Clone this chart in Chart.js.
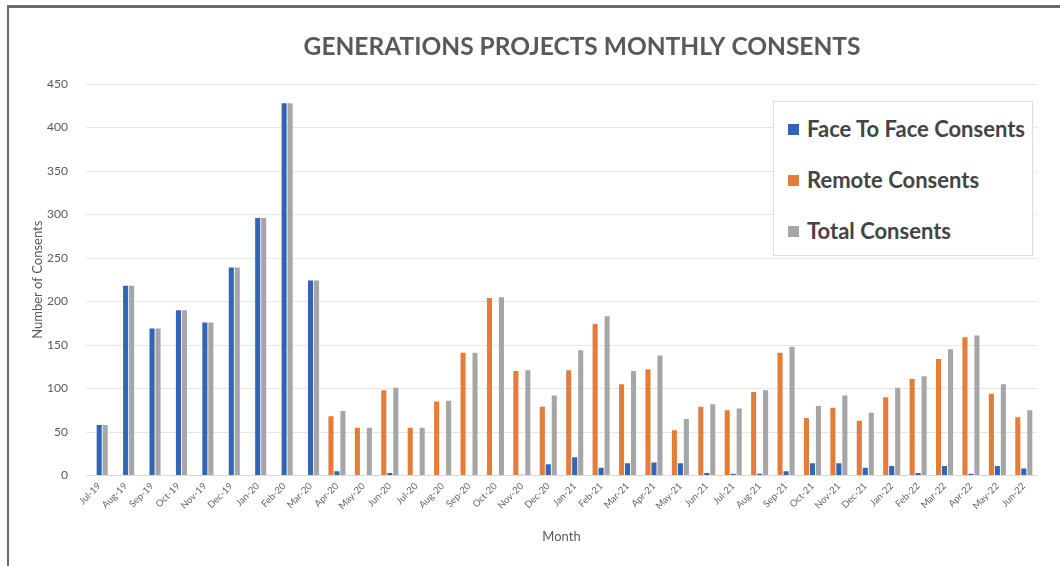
<!DOCTYPE html>
<html>
<head>
<meta charset="utf-8">
<script src="https://cdn.jsdelivr.net/npm/chart.js@4/dist/chart.umd.min.js"></script>
<style>
  html, body { margin: 0; padding: 0; background: #ffffff; }
  #wrap { position: relative; width: 1060px; height: 566px; overflow: hidden; background: #fff; }
  #frame { position: absolute; left: 7px; top: 5px; width: 1060px; height: 558px;
           border-top: 3px solid #6a6a6a; border-left: 2px solid #6a6a6a; border-bottom: 2px solid #8a8a8a; }
  canvas { position: absolute; left: 0; top: 0; }
  #legend { position: absolute; left: 773px; top: 101px; width: 260px; height: 155px;
            border: 1px solid #dcdcdc; background: #fff; box-sizing: border-box; }
  .item { position: absolute; left: 14px; height: 26px; line-height: 26px;
          font-family: Lato, 'Open Sans', sans-serif; font-weight: bold; font-size: 22px; color: #444; white-space: nowrap; }
  .sw { display: inline-block; width: 11px; height: 11px; margin-right: 8px; vertical-align: 2px; }
</style>
</head>
<body>
<div id="wrap">
  <canvas id="c" width="1060" height="566"></canvas>
  <div id="frame"></div>
  <div id="legend"></div>
</div>
<script>
const months = ["Jul-19","Aug-19","Sep-19","Oct-19","Nov-19","Dec-19","Jan-20","Feb-20","Mar-20","Apr-20","May-20","Jun-20","Jul-20","Aug-20","Sep-20","Oct-20","Nov-20","Dec-20","Jan-21","Feb-21","Mar-21","Apr-21","May-21","Jun-21","Jul-21","Aug-21","Sep-21","Oct-21","Nov-21","Dec-21","Jan-22","Feb-22","Mar-22","Apr-22","May-22","Jun-22"];
const faceToFace = [58,218,169,190,176,239,296,428,224,5,0,3,0,0,0,0,1,13,21,9,14,15,14,3,2,2,5,14,14,9,11,3,11,2,11,8];
const remote = [0,0,0,0,0,0,0,0,0,68,55,98,55,85,141,204,120,79,121,174,105,122,52,79,75,96,141,66,78,63,90,111,134,159,94,67];
const total = [58,218,169,190,176,239,296,428,224,74,55,101,55,86,141,205,121,92,144,183,120,138,65,82,77,98,148,80,92,72,101,114,145,161,105,75];
const yTicks = [0,50,100,150,200,250,300,350,400,450];

const BLUE = "#3265b6", ORANGE = "#e47d3a", GRAY = "#a6a6a6";
const textColor = "#595959";
const smallFont = "Lato, 'Open Sans', sans-serif";

// shift the title so it sits where the reference has it
const titleShift = {
  id: 'titleShift',
  afterLayout(chart) {
    const t = chart.titleBlock;
    if (t) { t.left += 50; t.right += 50; }
  }
};

const ctx = document.getElementById('c').getContext('2d');
const chart = new Chart(ctx, {
  type: 'bar',
  data: {
    labels: months,
    datasets: [
      { label: "Remote Consents", data: remote, backgroundColor: ORANGE, legendOrder: 1 },
      { label: "Face To Face Consents", data: faceToFace, backgroundColor: BLUE, legendOrder: 0 },
      { label: "Total Consents", data: total, backgroundColor: GRAY, legendOrder: 2 }
    ]
  },
  plugins: [titleShift],
  options: {
    responsive: false,
    animation: false,
    devicePixelRatio: 1,
    datasets: { bar: { categoryPercentage: 0.68, barPercentage: 0.85, borderWidth: 0 } },
    layout: { padding: { left: 27, right: 23, top: 0, bottom: 19 } },
    plugins: {
      legend: { display: false },
      tooltip: { enabled: false },
      title: {
        display: true,
        text: "GENERATIONS PROJECTS MONTHLY CONSENTS",
        color: textColor,
        font: { family: "Lato, 'Open Sans', sans-serif", size: 24.5, weight: 'bold', lineHeight: 1.2 },
        padding: { top: 32, bottom: 22.6 }
      }
    },
    scales: {
      x: {
        grid: { display: false, drawTicks: false },
        border: { display: true, color: "#d9d9d9" },
        ticks: { color: "#666", font: { family: smallFont, size: 9.5 }, minRotation: 45, maxRotation: 45, autoSkip: false, padding: 5 },
        title: { display: true, text: "Month", color: textColor, font: { family: smallFont, size: 13 }, padding: { top: 4, bottom: 2 } },
        afterFit: (s) => { s.height = 71.5; }
      },
      y: {
        min: 0, max: 450,
        afterBuildTicks: (s) => { s.ticks = yTicks.map(v => ({ value: v })); },
        grid: { color: "#e6e6e6", drawTicks: false },
        border: { display: false },
        ticks: { color: textColor, font: { family: smallFont, size: 12 }, padding: 18 },
        title: { display: true, text: "Number of Consents", color: textColor, font: { family: smallFont, size: 13 }, padding: { top: 3, bottom: 4 } },
        afterFit: (s) => { s.width = 59; }
      }
    }
  }
});

// HTML legend built from the chart's datasets
const legendEl = document.getElementById('legend');
const order = chart.data.datasets.map((d, i) => ({ d, i })).sort((a, b) => a.d.legendOrder - b.d.legendOrder);
const tops = [14, 65, 116];
order.forEach((o, k) => {
  const div = document.createElement('div');
  div.className = 'item';
  div.style.top = tops[k] + 'px';
  const sw = document.createElement('span');
  sw.className = 'sw';
  sw.style.background = o.d.backgroundColor;
  div.appendChild(sw);
  div.appendChild(document.createTextNode(o.d.label));
  legendEl.appendChild(div);
});
</script>
</body>
</html>
